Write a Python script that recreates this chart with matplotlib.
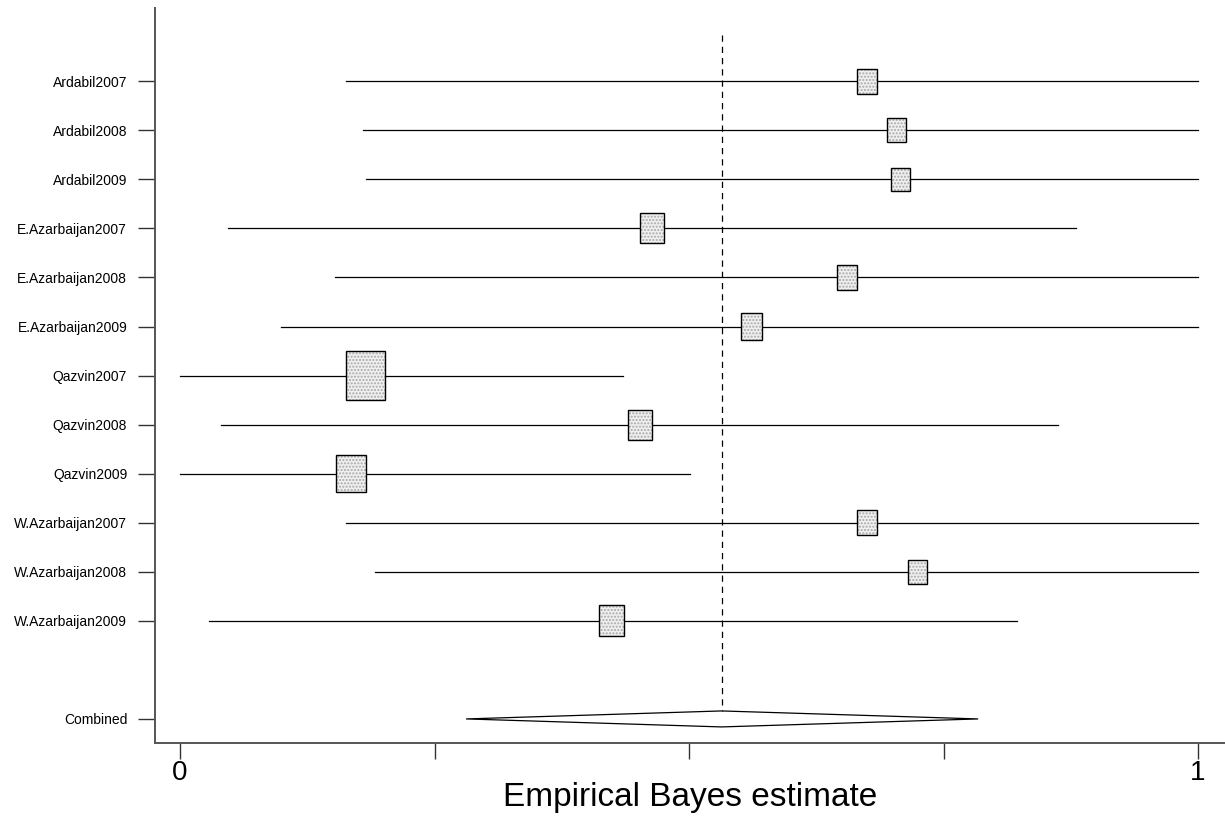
import numpy as np
import matplotlib
matplotlib.use("Agg")
import matplotlib.pyplot as plt
from matplotlib.patches import Rectangle, Polygon

plt.rcParams['font.family'] = ['Liberation Sans', 'DejaVu Sans']

# study-level data
studies = ['Ardabil2007', 'Ardabil2008', 'Ardabil2009',
           'E.Azarbaijan2007', 'E.Azarbaijan2008', 'E.Azarbaijan2009',
           'Qazvin2007', 'Qazvin2008', 'Qazvin2009',
           'W.Azarbaijan2007', 'W.Azarbaijan2008', 'W.Azarbaijan2009']
est = [0.675, 0.704, 0.708, 0.464, 0.655, 0.561,
       0.182, 0.452, 0.168, 0.675, 0.724, 0.424]
lo = [0.163, 0.180, 0.183, 0.047, 0.152, 0.099,
      0.000, 0.040, 0.000, 0.163, 0.192, 0.028]
hi = [1.000, 1.000, 1.000, 0.880, 1.000, 1.000,
      0.435, 0.862, 0.501, 1.000, 1.000, 0.822]
weight = [5.8, 5.2, 5.2, 8.3, 5.8, 6.4, 22.0, 8.3, 13.0, 5.8, 5.2, 9.0]

comb_est = 0.532
comb_lo = 0.281
comb_hi = 0.784

fig = plt.figure(figsize=(12.25, 8.16), dpi=100)
ax = fig.add_axes([0.1265, 0.0895, 0.8727, 0.9005])

n = len(studies)
ypos = -np.arange(n)
ycomb = -(n + 1)

ax.set_xlim(-0.0246, 1.0255)
ax.set_ylim(ycomb - 0.49, 1.49)

# box size: width in x data units, height scaled to look like the original
x_per_px = 1.0 / 1018
y_per_px = 1.0 / 49.1
for i in range(n):
    ax.plot([lo[i], hi[i]], [ypos[i], ypos[i]], color='black', lw=0.9, zorder=2)
    wpx = 8.3 * np.sqrt(weight[i])
    hpx = wpx * 1.25
    w = wpx * x_per_px
    h = hpx * y_per_px
    r = Rectangle((est[i] - w / 2, ypos[i] - h / 2), w, h,
                  facecolor='#f0f0f0', edgecolor='#a8a8a8', hatch='.....',
                  lw=0, zorder=3)
    ax.add_patch(r)
    ax.add_patch(Rectangle((est[i] - w / 2, ypos[i] - h / 2), w, h,
                           fill=False, edgecolor='black', lw=1.0, zorder=4))

# combined diamond
dh = 8 * y_per_px
diamond = Polygon([[comb_lo, ycomb], [comb_est, ycomb + dh],
                   [comb_hi, ycomb], [comb_est, ycomb - dh]],
                  closed=True, fill=False, edgecolor='black', lw=0.9, zorder=3)
ax.add_patch(diamond)

# overall estimate reference line
ax.plot([comb_est, comb_est], [0.95, ycomb + dh], color='black', lw=0.9,
        ls=(0, (5, 4)), zorder=1)

ax.set_yticks(list(ypos) + [ycomb])
ax.set_yticklabels(studies + ['Combined'], fontsize=10)
ax.set_xticks([0, 0.25, 0.5, 0.75, 1])
ax.set_xticklabels(['0', '', '', '', '1'], fontsize=20)
ax.tick_params(axis='y', direction='out', length=12, width=1.0, pad=8,
               color='#333333')
ax.tick_params(axis='x', direction='out', length=11.5, width=1.0, pad=1,
               color='#333333')
ax.set_xlabel('Empirical Bayes estimate', fontsize=24, va='center')
ax.xaxis.set_label_coords(0.5005, -0.0745)

for s in ['top', 'right']:
    ax.spines[s].set_visible(False)
for s in ['left', 'bottom']:
    ax.spines[s].set_color('#555555')
    ax.spines[s].set_linewidth(1.4)

fig.savefig('out.png', dpi=100)
